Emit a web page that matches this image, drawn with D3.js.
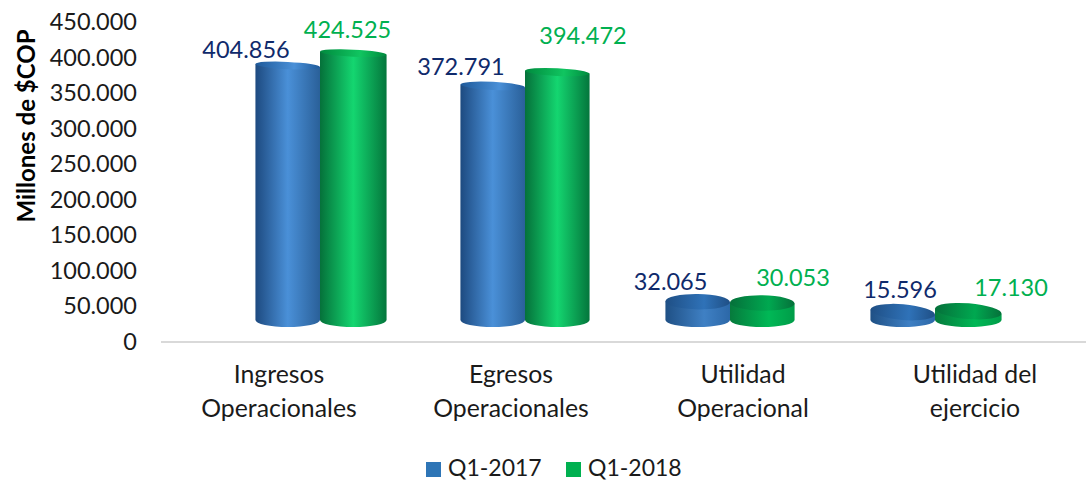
<!DOCTYPE html>
<html><head><meta charset="utf-8">
<script src="https://cdn.jsdelivr.net/npm/d3@7"></script>
<style>html,body{margin:0;padding:0;background:#fff}svg{display:block}text{font-family:Lato,Carlito,sans-serif}</style>
</head><body><svg id="c" width="1086" height="480"></svg>
<script>
const categories=[["Ingresos","Operacionales"],["Egresos","Operacionales"],["Utilidad","Operacional"],["Utilidad del","ejercicio"]];
const seriesNames=["Q1-2017","Q1-2018"];
const q12017=[404856,372791,32065,15596];
const q12018=[424525,394472,30053,17130];
const labels2017=["404.856","372.791","32.065","15.596"];
const labels2018=["424.525","394.472","30.053","17.130"];
const yTicks=[0,50000,100000,150000,200000,250000,300000,350000,400000,450000];
const tiltTop=[3,3,1,5];

const svg=d3.select("#c"),defs=svg.append("defs");
const ink="#1a1a1a";
const cols=[["#1d4a80","#4a90d8","#2a6099"],["#05713a","#14d670","#04763c"]];
const colsShort=[["#1f5085","#3f80c4","#2c68a8"],["#067a3c","#00b856","#009c48"]];
const caps=[["#1f5a9a","#4a90d8"],["#008a3e","#10c560"]];
const capsShort=[["#1f4f85","#2f72b8"],["#05703a","#00a850"]];
const y=d3.scaleLinear().domain([0,450000]).range([342,22]);
const hScale=d3.scaleLinear().domain([0,450000]).range([-2,283]);
const ryScale=d3.scaleLinear().domain([0,267]).range([8,3.5]);
const x3d=d3.scaleBand().domain(d3.range(4)).range([217.5,1037.5]).paddingInner(0.37).paddingOuter(0.185);
const xs=d3.scaleBand().domain([0,1]).range([0,x3d.bandwidth()]);
const xLab=d3.scaleBand().domain(d3.range(4)).range([163,1091]);

function grad(id,stops){const g=defs.append("linearGradient").attr("id",id);
 stops.forEach(s=>g.append("stop").attr("offset",s[0]).attr("stop-color",s[1]));}
[0,1].forEach(i=>{
 grad("b"+i,[[0,cols[i][0]],[.5,cols[i][1]],[1,cols[i][2]]]);
 grad("s"+i,[[0,colsShort[i][0]],[.6,colsShort[i][1]],[1,colsShort[i][2]]]);
 grad("t"+i,[[0,caps[i][0]],[.6,caps[i][1]],[1,caps[i][0]]]);
 grad("u"+i,[[0,capsShort[i][0]],[.6,capsShort[i][1]],[1,capsShort[i][0]]]);
});

// axis
const ya=svg.append("g").attr("transform","translate(135,0)").call(d3.axisLeft(y).tickValues(yTicks).tickSize(0).tickPadding(-2)
 .tickFormat(d=>d===0?"0":d3.format(",")(d).replace(/,/g,".")));
ya.select(".domain").remove();
ya.selectAll("text").attr("font-size",23.5).attr("fill",ink);
svg.append("line").attr("x1",161).attr("x2",1086).attr("y1",y(0)).attr("y2",y(0)).attr("stroke","#d9d9d9").attr("stroke-width",2);
svg.append("text").attr("transform","translate(35,126) rotate(-90)").attr("text-anchor","middle").attr("font-size",24).attr("font-weight",700).attr("fill","#000").text("Millones de $COP");

const base=320;
function drawBar(i,s,v){
  const w=xs.bandwidth()+((s===1&&(i===0||i===3))?2:0),x0=x3d(i)+xs(s),rw=w/2;
  const h=hScale(v),top=base-h,t=tiltTop[i]*0.5,short=i>1;
  const g=svg.append("g");
  g.append("path").attr("fill",`url(#${short?"s":"b"}${s})`).attr("d",
   `M${x0},${top-t}L${x0},${base}A${rw},7 0 0 0 ${x0+w},${base}L${x0+w},${top+t}Z`);
  g.append("ellipse").attr("cx",x0+rw).attr("cy",top).attr("rx",rw).attr("ry",ryScale(h))
   .attr("transform",`rotate(${tiltTop[i]*2/(w/30)} ${x0+rw} ${top})`).attr("fill",`url(#${short?"u":"t"}${s})`);
}
d3.range(4).forEach(i=>{
  const order=i<2?[0,1]:[1,0];
  order.forEach(s=>drawBar(i,s,[q12017,q12018][s][i]));
});

// value labels
const labelPos2017=[[246,58],[461,75],[670.5,290],[900,298]];
const labelPos2018=[[347.5,38],[583,44],[793,286],[1011,296]];
[[labels2017,labelPos2017,"#0f2a6b"],[labels2018,labelPos2018,"#00b050"]].forEach(([ls,ps,col])=>{
 ls.forEach((l,i)=>svg.append("text").attr("x",ps[i][0]).attr("y",ps[i][1]).attr("text-anchor","middle").attr("font-size",23.5).attr("fill",col).text(l));
});

// category labels
categories.forEach((c,i)=>c.forEach((l,k)=>svg.append("text").attr("x",xLab(i)+xLab.bandwidth()/2).attr("y",383+k*34).attr("text-anchor","middle").attr("font-size",24.8).attr("fill",ink).text(l)));

// legend
const lx=[426,566];
seriesNames.forEach((n,i)=>{
 svg.append("rect").attr("x",lx[i]).attr("y",462).attr("width",15).attr("height",15).attr("fill",i?"#00b050":"#2e75b6");
 svg.append("text").attr("x",lx[i]+22).attr("y",476).attr("font-size",23).attr("fill",ink).text(n);
});
</script></body></html>
